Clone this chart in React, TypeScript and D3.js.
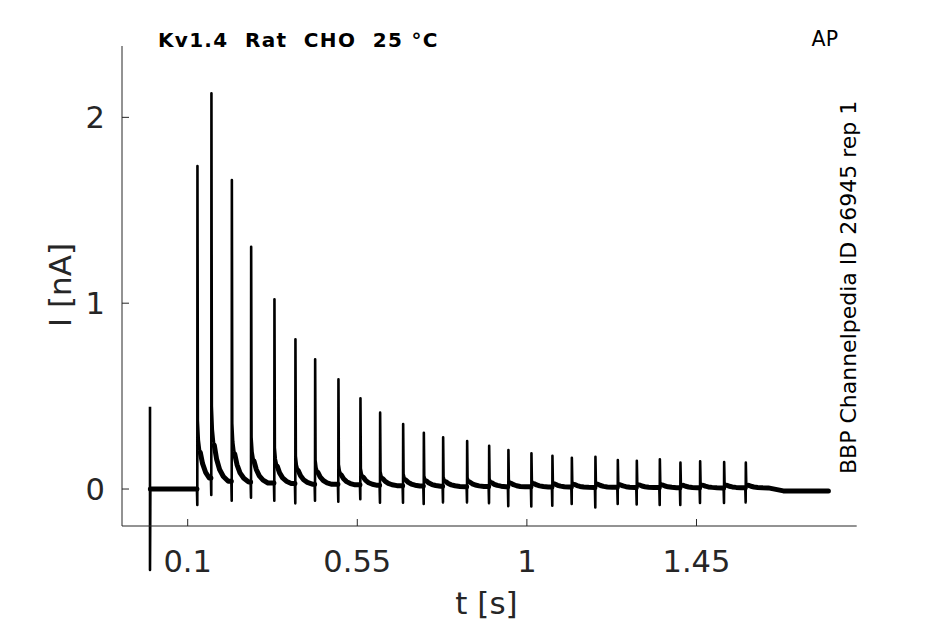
import * as d3 from "d3";
import React from "react";

// axis ticks
const xTicks = [0.1, 0.55, 1, 1.45];
const yTicks = [0, 1, 2];

// stimulus artefact at t = 0 (nA)
const artefactTime = 0;
const artefactHigh = 0.443;
const artefactLow = -0.436;

// spike times (s), peaks and troughs (nA)
const spikeTimes = [
  0.1255, 0.1626, 0.2168, 0.268, 0.3298, 0.3855, 0.4378, 0.4996, 0.558,
  0.6102, 0.6713, 0.7262, 0.7774, 0.8411, 0.8995, 0.9506, 1.0117, 1.0674,
  1.1189, 1.1815, 1.2409, 1.2913, 1.3524, 1.407, 1.4593, 1.523, 1.5805,
];
const spikePeaks = [
  1.738, 2.13, 1.663, 1.304, 1.021, 0.806, 0.698, 0.59, 0.488,
  0.411, 0.35, 0.303, 0.278, 0.258, 0.233, 0.21, 0.192, 0.179,
  0.168, 0.174, 0.156, 0.152, 0.16, 0.142, 0.149, 0.145, 0.142,
];
const spikeTroughs = [
  -0.086, -0.032, -0.063, -0.047, -0.063, -0.077, -0.063, -0.068, -0.055,
  -0.074, -0.074, -0.081, -0.072, -0.072, -0.076, -0.092, -0.094, -0.09,
  -0.081, -0.099, -0.081, -0.083, -0.086, -0.086, -0.075, -0.075, -0.072,
];
// level the current settles to after each spike (nA)
const restLevels = [
  0.025, 0.025, 0.025, 0.022, 0.022, 0.02, 0.02, 0.018, 0.016,
  0.015, 0.014, 0.013, 0.012, 0.012, 0.011, 0.01, 0.01, 0.009,
  0.008, 0.008, 0.007, 0.007, 0.006, 0.006, 0.006, 0.006, 0.006,
];
const startLevel = 0.0;
const endLevel = -0.01;
const traceEnd = 1.8;

// shape of the decay after each spike: offset (s) and fraction of the peak
const tailOffsets = [0, 0.0015, 0.004, 0.008, 0.014, 0.022, 0.032, 0.045, 0.06];
const tailFractions = [1, 0.2, 0.14, 0.1, 0.065, 0.038, 0.02, 0.008, 0];

const width = 945;
const height = 624;
const font = "'DejaVu Sans', sans-serif";
const axisColor = "#262626";

const x = d3.scaleLinear().domain([-0.0743, 1.8751]).range([122, 856.7]);
const y = d3.scaleLinear().domain([-0.199, 2.384]).range([526, 46]);

type P = [number, number];

// full trace and the noisy baseline segments
const trace: P[] = [];
const band: P[][] = [];

trace.push([artefactTime, artefactHigh], [artefactTime, artefactLow], [artefactTime + 0.001, startLevel]);
band.push([[artefactTime + 0.001, startLevel], [spikeTimes[0] - 0.001, startLevel]]);
trace.push([spikeTimes[0] - 0.001, startLevel]);

spikeTimes.forEach((t, i) => {
  const rest = restLevels[i];
  const next = i < spikeTimes.length - 1 ? spikeTimes[i + 1] : traceEnd;
  trace.push([t, spikeTroughs[i]], [t + 0.0004, spikePeaks[i]]);
  const seg: P[] = [];
  let last = rest;
  tailOffsets.forEach((o, k) => {
    if (k === 0) return;
    if (t + o >= next - 0.002) return;
    const v = rest + tailFractions[k] * (spikePeaks[i] - rest);
    trace.push([t + o, v]);
    if (k >= 3) seg.push([t + o, v]);
    last = v;
  });
  if (i < spikeTimes.length - 1) {
    trace.push([next - 0.001, last]);
    seg.push([next - 0.001, last]);
  } else {
    trace.push([t + 0.1, endLevel], [traceEnd, endLevel]);
    seg.push([t + 0.1, endLevel], [traceEnd, endLevel]);
  }
  band.push(seg);
});

const line = d3.line<P>().x(d => x(d[0])).y(d => y(d[1]));

export default function App() {
  return (
    <svg
      width={width}
      height={height}
      style={{ position: "absolute", left: 0, top: 0, background: "white" }}
      fontFamily={font}
    >
      {/* noisy baseline */}
      {band.map((seg, i) => (
        <path key={i} d={line(seg) || ""} fill="none" stroke="black" strokeWidth={5} strokeLinejoin="round" strokeLinecap="round" />
      ))}
      {/* trace */}
      <path d={line(trace) || ""} fill="none" stroke="black" strokeWidth={2.6} strokeLinejoin="round" />

      {/* axes */}
      <line x1={x.range()[0]} x2={x.range()[1]} y1={526} y2={526} stroke={axisColor} strokeWidth={1} />
      <line x1={122} x2={122} y1={y.range()[1]} y2={y.range()[0]} stroke={axisColor} strokeWidth={1} />
      {xTicks.map(t => (
        <g key={t}>
          <line x1={x(t)} x2={x(t)} y1={526} y2={519} stroke={axisColor} />
          <text x={x(t)} y={572} textAnchor="middle" fontSize={30.5} fill={axisColor}>
            {String(t)}
          </text>
        </g>
      ))}
      {yTicks.map(v => (
        <g key={v}>
          <line x1={122} x2={129} y1={y(v)} y2={y(v)} stroke={axisColor} />
          <text x={105} y={y(v)} dy="0.36em" textAnchor="end" fontSize={30.5} fill={axisColor}>
            {String(v)}
          </text>
        </g>
      ))}

      <text x={486.5} y={614} textAnchor="middle" fontSize={31} fill={axisColor}>t [s]</text>
      <text transform="translate(71,285) rotate(-90)" textAnchor="middle" fontSize={31} fill={axisColor}>I [nA]</text>

      <text x={158} y={46.5} fontSize={20} fontWeight="bold" letterSpacing={1.3} style={{ whiteSpace: "pre" }} fill="black">
        {"Kv1.4  Rat  CHO  25 °C"}
      </text>
      <text x={838} y={46} textAnchor="end" fontSize={20.5} fill="black">AP</text>
      <text transform="translate(856,474) rotate(-90)" fontSize={22} fill="black">
        BBP Channelpedia ID 26945 rep 1
      </text>
    </svg>
  );
}
